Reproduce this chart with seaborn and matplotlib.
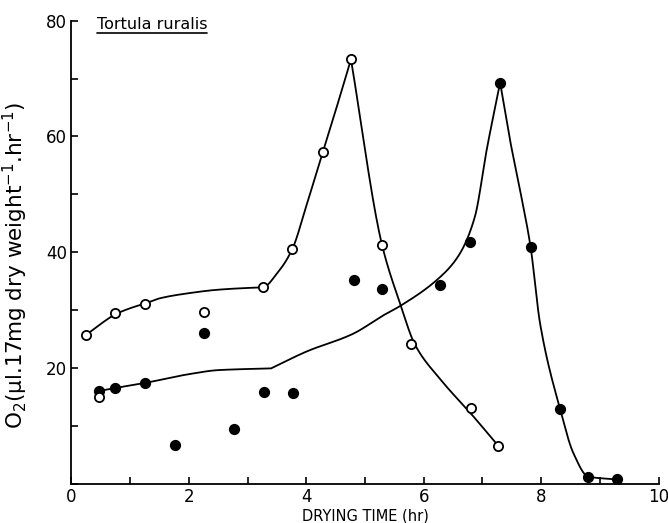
import numpy as np
import pandas as pd
import matplotlib
matplotlib.use("Agg")
import matplotlib.pyplot as plt
import seaborn as sns
from matplotlib.lines import Line2D

# ---- data ----
open_x = [0.25, 0.47, 0.74, 1.25, 2.25, 3.26, 3.76, 4.28, 4.76, 5.29, 5.78, 6.81, 7.27]
open_y = [25.7, 15.0, 29.4, 31.1, 29.7, 33.9, 40.5, 57.3, 73.3, 41.2, 24.1, 13.0, 6.5]

filled_x = [0.47, 0.74, 1.26, 1.77, 2.26, 2.76, 3.28, 3.77, 4.81, 5.28, 6.28, 6.79, 7.30, 7.82, 8.32, 8.80, 9.29]
filled_y = [16.0, 16.5, 17.4, 6.6, 26.0, 9.5, 15.9, 15.7, 35.1, 33.6, 34.3, 41.7, 69.3, 40.8, 12.9, 1.2, 0.7]

# hand-fitted curves (knots); each inner list is one smooth piece
open_curve_x = [[0.25, 0.5, 0.74, 1.0, 1.25, 1.5, 2.0, 2.5, 3.0, 3.26, 3.5, 3.76, 4.0, 4.28, 4.5, 4.76],
                [4.76, 5.29, 5.6, 5.85, 6.3, 6.81, 7.27]]
open_curve_y = [[25.7, 27.6, 29.2, 30.3, 31.1, 32.0, 32.9, 33.5, 33.8, 33.9, 36.3, 40.5, 48.0, 57.3, 64.5, 73.3],
                [73.3, 41.2, 31.0, 24.0, 17.8, 12.0, 6.5]]

filled_curve_x = [[0.47, 0.74, 1.26, 2.0, 2.5, 3.4],
                  [3.4, 4.0, 4.8, 5.3, 5.6, 6.28, 6.6, 6.87, 7.07, 7.3],
                  [7.3, 7.47, 7.64, 7.82, 7.98, 8.32, 8.55, 8.8, 9.29]]
filled_curve_y = [[16.0, 16.5, 17.4, 18.9, 19.6, 19.9],
                  [19.9, 22.8, 25.9, 29.0, 30.7, 35.7, 39.5, 46.1, 57.6, 69.3],
                  [69.3, 59.3, 50.7, 40.8, 27.7, 12.9, 5.2, 1.2, 0.7]]

x_ticks = list(range(0, 11))
x_labels = ["0", "", "2", "", "4", "", "6", "", "8", "", "10"]
y_ticks = [0, 10, 20, 30, 40, 50, 60, 70, 80]
y_labels = ["", "", "20", "", "40", "", "60", "", "80"]

title = "Tortula ruralis"
xlabel = "DRYING TIME (hr)"
ylabel = r"O$_2$(µl.17mg dry weight$^{-1}$.hr$^{-1}$)"


def pchip_piece(xs, ys, n=30):
    """Monotone cubic (Fritsch-Carlson) rendering through the knots (drawing only)."""
    x = np.asarray(xs, float)
    y = np.asarray(ys, float)
    h = np.diff(x)
    d = np.diff(y) / h
    m = np.zeros_like(y)
    for k in range(1, len(x) - 1):
        if d[k - 1] * d[k] > 0:
            w1 = 2 * h[k] + h[k - 1]
            w2 = h[k] + 2 * h[k - 1]
            m[k] = (w1 + w2) / (w1 / d[k - 1] + w2 / d[k])
    m[0] = d[0]
    m[-1] = d[-1]
    px, py = [], []
    for k in range(len(x) - 1):
        t = np.linspace(0, 1, n, endpoint=False)
        h00 = 2 * t ** 3 - 3 * t ** 2 + 1
        h10 = t ** 3 - 2 * t ** 2 + t
        h01 = -2 * t ** 3 + 3 * t ** 2
        h11 = t ** 3 - t ** 2
        px.append(x[k] + t * h[k])
        py.append(h00 * y[k] + h10 * h[k] * m[k] + h01 * y[k + 1] + h11 * h[k] * m[k + 1])
    px.append([x[-1]])
    py.append([y[-1]])
    return np.concatenate(px), np.concatenate(py)


def curve_frame(xs_list, ys_list):
    X, Y = [], []
    for xs, ys in zip(xs_list, ys_list):
        a, b = pchip_piece(xs, ys)
        X.append(a)
        Y.append(b)
    return pd.DataFrame({"x": np.concatenate(X), "y": np.concatenate(Y)})


# ---- plot ----
sns.set_style("ticks")
plt.rcParams["font.family"] = ["DejaVu Sans"]
plt.rcParams["mathtext.fontset"] = "dejavusans"
plt.rcParams["text.color"] = "black"
plt.rcParams["axes.labelcolor"] = "black"

fig = plt.figure(figsize=(6.68, 5.23), dpi=100)
ax = fig.add_axes([0.107, 0.0755, 0.879, 0.885])

oc = curve_frame(open_curve_x, open_curve_y)
fc = curve_frame(filled_curve_x, filled_curve_y)
sns.lineplot(data=oc, x="x", y="y", sort=False, estimator=None, color="black", lw=1.3, ax=ax, zorder=2)
sns.lineplot(data=fc, x="x", y="y", sort=False, estimator=None, color="black", lw=1.3, ax=ax, zorder=2)

od = pd.DataFrame({"x": open_x, "y": open_y})
fd = pd.DataFrame({"x": filled_x, "y": filled_y})
sns.scatterplot(data=fd, x="x", y="y", marker="o", s=50, color="black", edgecolor="black",
                linewidth=1.0, ax=ax, zorder=3)
sns.scatterplot(data=od, x="x", y="y", marker="o", s=44, facecolor="white", edgecolor="black",
                linewidth=1.3, ax=ax, zorder=4)

ax.set_xlim(0, 10)
ax.set_ylim(0, 80)
ax.set_xticks(x_ticks)
ax.set_xticklabels(x_labels)
ax.set_yticks(y_ticks)
ax.set_yticklabels(y_labels)
ax.tick_params(direction="in", length=5, width=1.2, labelsize=12, colors="black", pad=3)
ax.tick_params(axis="y", pad=3)
for s in ["top", "right"]:
    ax.spines[s].set_visible(False)
for s in ["left", "bottom"]:
    ax.spines[s].set_linewidth(1.3)
    ax.spines[s].set_color("black")

ax.set_xlabel(xlabel, fontsize=10.5, labelpad=2, color="black")
ax.set_ylabel(ylabel, fontsize=15.5, color="black")
ax.yaxis.set_label_coords(-0.07, 0.472)

t = ax.text(0.43, 79.3, title, fontsize=11.5, ha="left", va="center", color="black")

fig.canvas.draw()
bb = t.get_window_extent(renderer=fig.canvas.get_renderer())
inv = fig.transFigure.inverted()
(x0, y0), (x1, y1) = inv.transform([[bb.x0, bb.y0 - 1], [bb.x1, bb.y0 - 1]])
fig.add_artist(Line2D([x0, x1], [y0, y1], transform=fig.transFigure, color="black", lw=1.2))

fig.savefig("out.png", dpi=100)
